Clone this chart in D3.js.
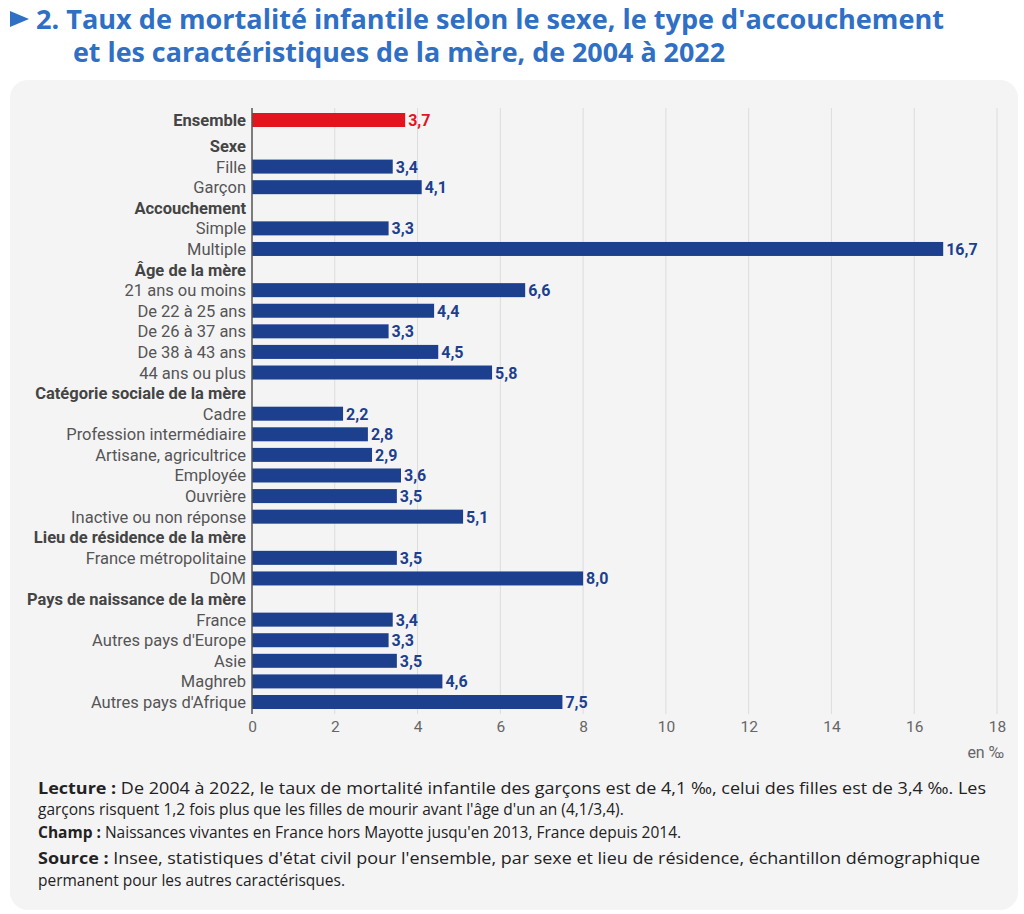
<!DOCTYPE html>
<html><head><meta charset="utf-8">
<script src="https://cdn.jsdelivr.net/npm/d3@7"></script>
<style>body{margin:0;background:#fff;}text{font-family:Roboto,sans-serif;}text.os,text.os tspan{font-family:"Open Sans",sans-serif;}</style>
</head><body><svg id="c" width="1024" height="914"></svg>
<script>
const labels=["Ensemble","Sexe","Fille","Garçon","Accouchement","Simple","Multiple","Âge de la mère","21 ans ou moins","De 22 à 25 ans","De 26 à 37 ans","De 38 à 43 ans","44 ans ou plus","Catégorie sociale de la mère","Cadre","Profession intermédiaire","Artisane, agricultrice","Employée","Ouvrière","Inactive ou non réponse","Lieu de résidence de la mère","France métropolitaine","DOM","Pays de naissance de la mère","France","Autres pays d'Europe","Asie","Maghreb","Autres pays d'Afrique"];
const values=[3.7,null,3.4,4.1,null,3.3,16.7,null,6.6,4.4,3.3,4.5,5.8,null,2.2,2.8,2.9,3.6,3.5,5.1,null,3.5,8.0,null,3.4,3.3,3.5,4.6,7.5];
const ticks=[0,2,4,6,8,10,12,14,16,18];
const svg=d3.select("#c");
svg.append("rect").attr("x",10).attr("y",80).attr("width",1008).attr("height",830).attr("rx",18).attr("fill","#f4f4f5");
const tc="#2f6fc4";
svg.append("path").attr("d","M10,11 L29,19 L10,27 Z").attr("fill",tc);
const t=svg.append("text").attr("class","os").attr("font-weight",700).attr("font-size",26).attr("fill",tc);
t.append("tspan").attr("x",36).attr("y",29).attr("textLength",908).attr("lengthAdjust","spacingAndGlyphs").text("2. Taux de mortalité infantile selon le sexe, le type d'accouchement");
t.append("tspan").attr("x",73).attr("y",62).attr("textLength",652).attr("lengthAdjust","spacingAndGlyphs").text("et les caractéristiques de la mère, de 2004 à 2022");
const x=d3.scaleLinear().domain([0,18]).range([252,997]);
const yPos=i=> i===0?120:146+(i-1)*(556/27);
const g=svg.append("g");
ticks.forEach(v=>{ if(v>0) g.append("line").attr("x1",x(v)).attr("x2",x(v)).attr("y1",108).attr("y2",714).attr("stroke","#dcdcdc");});
labels.forEach((l,i)=>{
  const v=values[i], y=yPos(i), hdr=(v===null)||i===0;
  g.append("text").attr("x",246).attr("y",y+6).attr("text-anchor","end").attr("font-size",16.5)
    .attr("font-weight",hdr?700:400).attr("fill",hdr?"#444":"#555").text(l);
  if(v!==null){
    const col=i===0?"#e3141e":"#1c3f8e";
    g.append("rect").attr("x",x(0)).attr("y",y-7).attr("width",x(v)-x(0)).attr("height",14).attr("fill",col);
    g.append("text").attr("x",x(v)+3).attr("y",y+6).attr("font-size",16).attr("font-weight",700).attr("fill",col).text(d3.format(".1f")(v).replace(".",","));
  }
});
g.append("line").attr("x1",x(0)).attr("x2",x(0)).attr("y1",108).attr("y2",714).attr("stroke","#555").attr("stroke-width",1.5);
const ax=svg.append("g").attr("transform","translate(0,714)").call(d3.axisBottom(x).tickValues(ticks).tickSize(0).tickPadding(7));
ax.select(".domain").remove();
ax.selectAll("text").attr("font-size",15.5).attr("fill","#666");
svg.append("text").attr("x",1004).attr("y",758).attr("text-anchor","end").attr("font-size",16).attr("fill","#666").text("en ‰");
const notes=[[794,"Lecture : ","De 2004 à 2022, le taux de mortalité infantile des garçons est de 4,1 ‰, celui des filles est de 3,4 ‰. Les",948],
[815,"","garçons risquent 1,2 fois plus que les filles de mourir avant l'âge d'un an (4,1/3,4).",0],
[838,"Champ : ","Naissances vivantes en France hors Mayotte jusqu'en 2013, France depuis 2014.",0],
[864,"Source : ","Insee, statistiques d'état civil pour l'ensemble, par sexe et lieu de résidence, échantillon démographique",942],
[886,"","permanent pour les autres caractérisques.",0]];
notes.forEach(n=>{const tx=svg.append("text").attr("class","os").attr("x",38).attr("y",n[0]).attr("font-size",15.5).attr("fill","#222");
 if(n[3]) tx.attr("textLength",n[3]).attr("lengthAdjust","spacingAndGlyphs");
 if(n[1]) tx.append("tspan").attr("font-weight",700).text(n[1]); tx.append("tspan").text(n[2]);});
</script></body></html>
